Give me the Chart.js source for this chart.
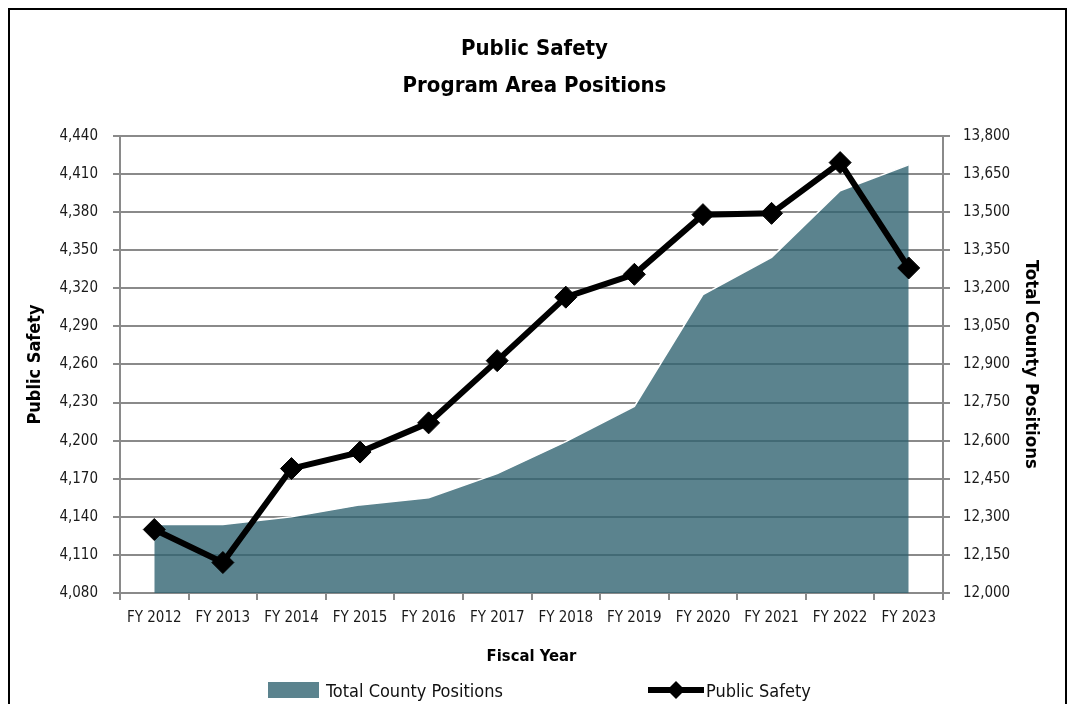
<!DOCTYPE html>
<html>
<head>
<meta charset="utf-8">
<title>Public Safety Program Area Positions</title>
<script src="https://cdn.jsdelivr.net/npm/chart.js@4.4.0/dist/chart.umd.min.js"></script>
<style>
  html, body { margin: 0; padding: 0; background: #fff; overflow: hidden; }
  #wrap { position: relative; width: 1069px; height: 704px; }
  #frame { position: absolute; left: 8px; top: 8px; width: 1059px; height: 730px; box-sizing: border-box; border: 2px solid #000; pointer-events: none; }
  .leg { position: absolute; top: 678px; height: 24px; display: flex; align-items: center; font: 18px 'Liberation Sans Narrow', 'DejaVu Sans Condensed', sans-serif; color: #111; }
  .leg .box { width: 51px; height: 16px; background: #5b838e; margin-right: 7px; }
  .leg svg { margin-right: 1px; }
</style>
</head>
<body>
<div id="wrap">
  <canvas id="positionsChart" width="1069" height="704"></canvas>
  <div id="frame"></div>
  <div class="leg" style="left:268px"><span class="box"></span><span>Total County Positions</span></div>
  <div class="leg" style="left:647px">
    <svg width="58" height="22" viewBox="0 0 58 22"><line x1="1" y1="11" x2="57" y2="11" stroke="#000" stroke-width="6"/><path d="M29 2 L38 11 L29 20 L20 11 Z" fill="#000"/></svg>
    <span>Public Safety</span>
  </div>
</div>
<script>
// fiscal years on the x axis
const years = ["FY 2012", "FY 2013", "FY 2014", "FY 2015", "FY 2016", "FY 2017",
               "FY 2018", "FY 2019", "FY 2020", "FY 2021", "FY 2022", "FY 2023"];

// Public Safety positions (left axis)
const publicSafety = [4130, 4104, 4178, 4191, 4214, 4263, 4313, 4331, 4378, 4379, 4419, 4336];

// Total County positions (right axis)
const totalCounty = [12270, 12270, 12300, 12347, 12375, 12470, 12596, 12735, 13175, 13322, 13584, 13686];

// axis ranges / tick steps
const leftAxis = [4080, 4440, 30];
const rightAxis = [12000, 13800, 150];

const FONT = "'Liberation Sans Narrow', 'DejaVu Sans Condensed', sans-serif";
const GRID = "#8a8a8a";
Chart.defaults.font.family = FONT;
Chart.defaults.color = "#1a1a1a";

const ctx = document.getElementById("positionsChart").getContext("2d");
const chart = new Chart(ctx, {
  type: "line",
  data: {
    labels: years,
    datasets: [{
      label: "Public Safety",
      data: publicSafety,
      yAxisID: "y",
      borderColor: "#000",
      borderWidth: 6,
      tension: 0,
      fill: false,
      pointStyle: "rectRot",
      pointRadius: 11,
      pointBackgroundColor: "#000",
      pointBorderColor: "#000",
      pointBorderWidth: 1
    }, {
      label: "Total County Positions",
      data: totalCounty,
      yAxisID: "y1",
      fill: "start",
      backgroundColor: "rgba(47, 98, 112, 0.79)",
      borderColor: "#ffffff",
      borderWidth: 1.5,
      pointRadius: 0,
      tension: 0
    }]
  },
  options: {
    responsive: false,
    animation: false,
    devicePixelRatio: 1,
    layout: {padding: {top: 10, left: 10, right: 10, bottom: 0}},
    plugins: {
      legend: {display: false},
      tooltip: {enabled: false},
      title: {
        display: true,
        text: ["Public Safety", "Program Area Positions"],
        color: "#000",
        font: {size: 22, weight: "bold", lineHeight: 1.68},
        padding: {top: 21, bottom: 31}
      }
    },
    scales: {
      x: {
        offset: true,
        grid: {offset: true, drawOnChartArea: false, tickLength: 7, color: GRID, lineWidth: 2},
        border: {color: GRID, width: 2},
        ticks: {font: {size: 15}, padding: 9, maxRotation: 0, autoSkip: false},
        title: {display: true, text: "Fiscal Year", color: "#000",
                font: {size: 16.5, weight: "bold"}, padding: {top: 4, bottom: 37}},
        afterFit: s => { s.height = 111; }
      },
      y: {
        position: "left",
        min: leftAxis[0],
        max: leftAxis[1],
        grid: {tickLength: 7, color: GRID, lineWidth: 2},
        border: {color: GRID, width: 2},
        ticks: {stepSize: leftAxis[2], font: {size: 15}, padding: 15},
        title: {display: true, text: "Public Safety", color: "#000",
                font: {size: 18, weight: "bold"}, padding: {top: 15, bottom: 0}},
        afterFit: s => { s.width = 110; }
      },
      y1: {
        position: "right",
        min: rightAxis[0],
        max: rightAxis[1],
        grid: {drawOnChartArea: false, tickLength: 7, color: GRID, lineWidth: 2},
        border: {color: GRID, width: 2},
        ticks: {stepSize: rightAxis[2], font: {size: 15}, padding: 13},
        title: {display: true, text: "Total County Positions", color: "#000",
                font: {size: 18.5, weight: "bold"}, padding: {top: 17, bottom: 0}},
        afterFit: s => { s.width = 116; }
      }
    }
  }
});
</script>
</body>
</html>
